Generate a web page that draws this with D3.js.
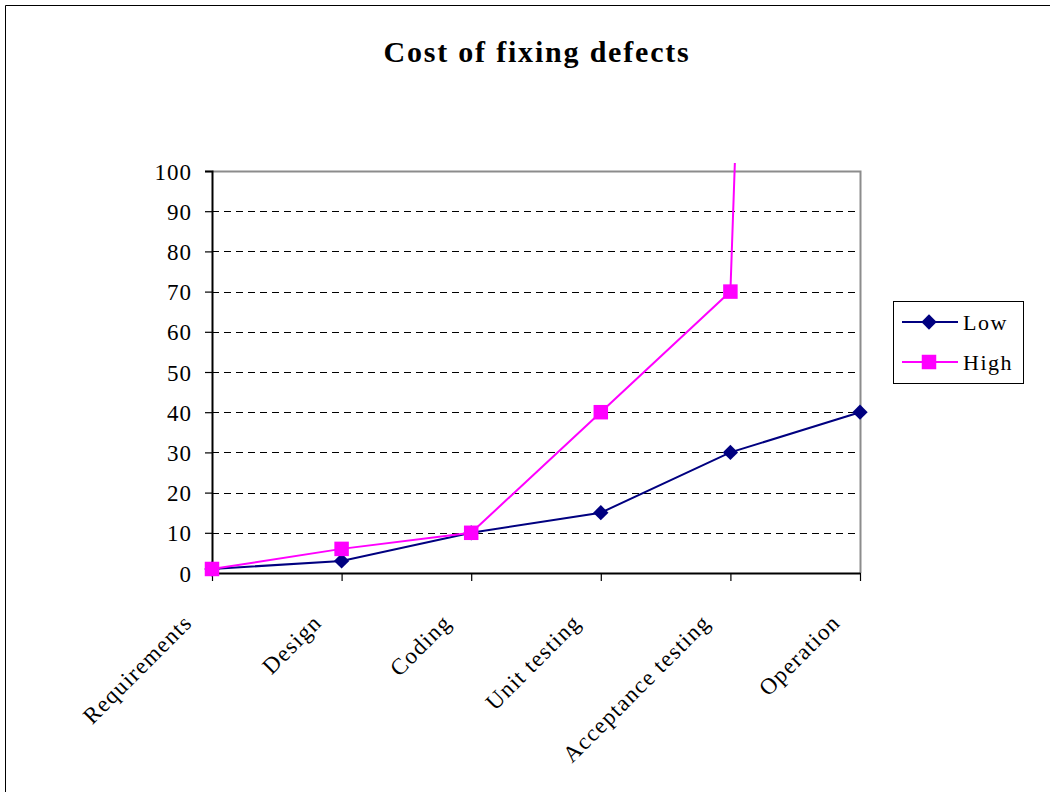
<!DOCTYPE html>
<html>
<head>
<meta charset="utf-8">
<script src="https://cdn.jsdelivr.net/npm/d3@7/dist/d3.min.js"></script>
<style>
  html, body { margin: 0; padding: 0; background: #fff; }
  svg { display: block; }
  text { font-family: "Liberation Serif", "Times New Roman", serif; fill: #000; }
</style>
</head>
<body>
<svg id="chart" width="1050" height="792"></svg>
<script>
// Phases of the development life cycle
const categories = ["Requirements", "Design", "Coding", "Unit testing", "Acceptance testing", "Operation"];
// Relative cost of fixing a defect found in each phase
const lowValues  = [1, 3, 10, 15, 30, 40];
const highValues = [1, 6, 10, 40, 70, 1000];
const yTicks = [0, 10, 20, 30, 40, 50, 60, 70, 80, 90, 100];
const seriesNames = ["Low", "High"];
const titleText = "Cost of fixing defects";

const svg = d3.select("#chart");
const plot = { left: 212, right: 860, top: 171, bottom: 573 };

// Outer chart frame (extends past the window on right and bottom)
svg.append("path")
  .attr("d", "M5.5,800 V5.5 H1060")
  .attr("fill", "none").attr("stroke", "#000").attr("stroke-width", 1);

// Title
svg.append("text")
  .attr("x", 537).attr("y", 62)
  .attr("text-anchor", "middle")
  .style("font-size", "30px").style("font-weight", "bold")
  .style("letter-spacing", "1.8px")
  .text(titleText);

const x = d3.scalePoint().domain(categories).range([plot.left, plot.right]).padding(0);
const y = d3.scaleLinear().domain([0, 100]).range([plot.bottom, plot.top]);

// Plot area right/top border
svg.append("path")
  .attr("d", `M${plot.left},${plot.top + 0.5} H${plot.right + 0.5} V${plot.bottom}`)
  .attr("fill", "none").attr("stroke", "#8c8c8c").attr("stroke-width", 2);

// Dashed gridlines
svg.append("g").selectAll("line")
  .data(yTicks.filter(v => v > 0 && v < 100))
  .join("line")
  .attr("x1", plot.left).attr("x2", plot.right)
  .attr("y1", d => Math.round(y(d)) + 0.5).attr("y2", d => Math.round(y(d)) + 0.5)
  .attr("stroke", "#000").attr("stroke-width", 1)
  .attr("stroke-dasharray", "7,5");

// Y axis
const yAxis = svg.append("g")
  .attr("transform", `translate(${plot.left},0)`)
  .call(d3.axisLeft(y).tickValues(yTicks).tickSize(7).tickPadding(13).tickFormat(d3.format("d")));
yAxis.select(".domain").attr("stroke", "#000").attr("stroke-width", 2);
yAxis.selectAll(".tick line").attr("stroke", "#000").attr("stroke-width", 1.2);
yAxis.selectAll(".tick text")
  .attr("dy", "0.35em")
  .style("font-size", "23px").style("letter-spacing", "1px")
  .style("font-family", "Liberation Serif, serif").attr("fill", "#000");

// X axis
const xAxis = svg.append("g")
  .attr("transform", `translate(0,${plot.bottom})`)
  .call(d3.axisBottom(x).tickSize(8).tickSizeOuter(0));
xAxis.select(".domain").attr("stroke", "#000").attr("stroke-width", 2);
xAxis.selectAll(".tick line").attr("stroke", "#000").attr("stroke-width", 1.2);
xAxis.selectAll(".tick text")
  .attr("x", 0).attr("y", 0).attr("dy", 0)
  .attr("text-anchor", "end")
  .attr("transform", "translate(-19,51) rotate(-45)")
  .style("font-size", "23px").style("letter-spacing", "1.3px")
  .style("font-family", "Liberation Serif, serif").attr("fill", "#000");

// Clip lines to the plot area (with a little overshoot at the top)
svg.append("clipPath").attr("id", "plotClip")
  .append("rect")
  .attr("x", plot.left - 10).attr("y", plot.top - 8)
  .attr("width", plot.right - plot.left + 20).attr("height", plot.bottom - plot.top + 20);

const line = d3.line().x((d, i) => x(categories[i])).y(d => y(d));

const seriesDefs = [
  { name: seriesNames[0], values: lowValues, color: "#000080", symbol: d3.symbolDiamond2, size: 150 },
  { name: seriesNames[1], values: highValues, color: "#FF00FF", symbol: d3.symbolSquare, size: 210 }
];

const marks = svg.append("g").attr("clip-path", "url(#plotClip)");
seriesDefs.forEach(s => {
  marks.append("path")
    .datum(s.values)
    .attr("d", line)
    .attr("fill", "none").attr("stroke", s.color).attr("stroke-width", 2);
  marks.append("g").selectAll("path")
    .data(s.values.map((v, i) => ({ v, i })).filter(d => d.v <= 100))
    .join("path")
    .attr("transform", d => `translate(${x(categories[d.i])},${y(d.v)})`)
    .attr("d", d3.symbol().type(s.symbol).size(s.size))
    .attr("fill", s.color);
});

// Legend
const legend = svg.append("g");
legend.append("rect")
  .attr("x", 893.5).attr("y", 301.5).attr("width", 130).attr("height", 82)
  .attr("fill", "#fff").attr("stroke", "#000").attr("stroke-width", 1);
seriesDefs.forEach((s, i) => {
  const ly = 322 + i * 40;
  legend.append("line")
    .attr("x1", 902).attr("x2", 958).attr("y1", ly).attr("y2", ly)
    .attr("stroke", s.color).attr("stroke-width", 2);
  legend.append("path")
    .attr("transform", `translate(929,${ly})`)
    .attr("d", d3.symbol().type(s.symbol).size(s.size))
    .attr("fill", s.color);
  legend.append("text")
    .attr("x", 963).attr("y", ly).attr("dy", "0.35em")
    .style("font-size", "22px").style("letter-spacing", "1.5px")
    .text(s.name);
});
</script>
</body>
</html>
